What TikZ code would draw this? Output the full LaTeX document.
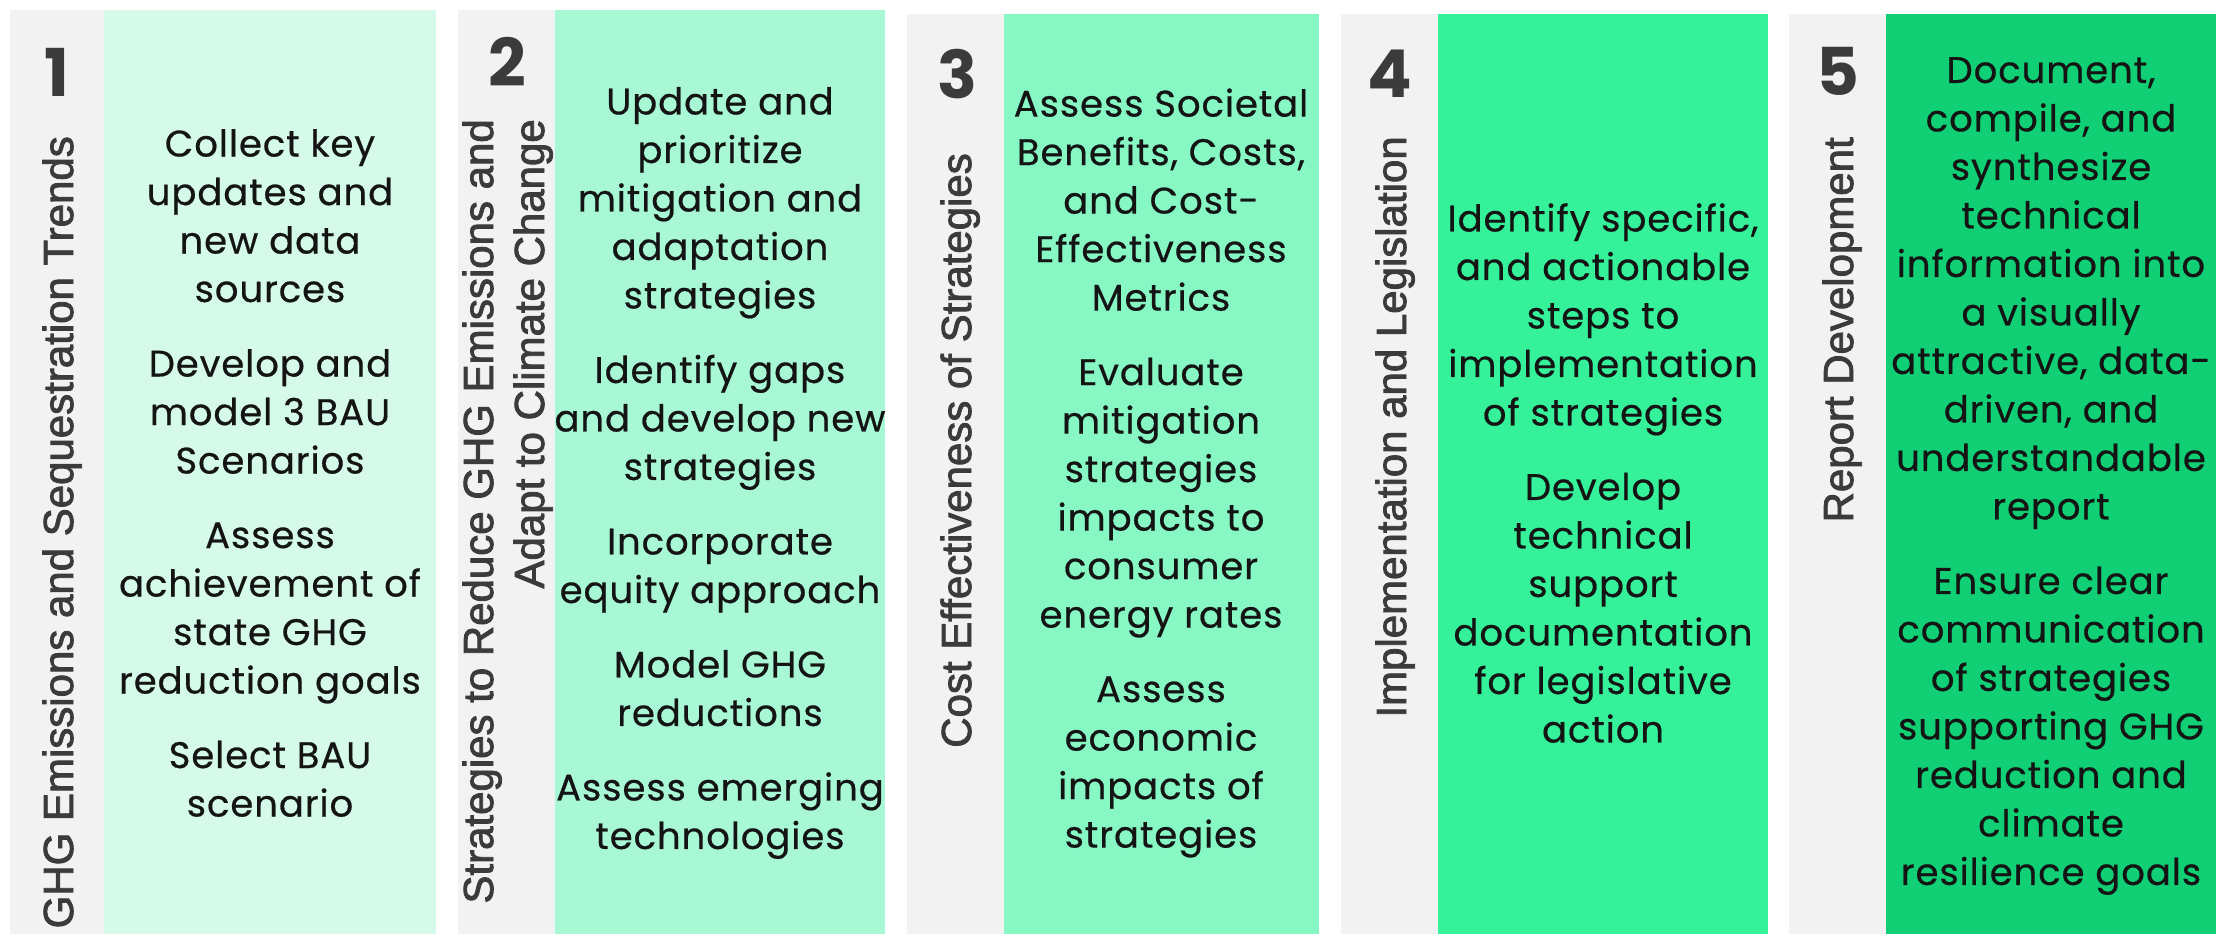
\documentclass[tikz,border=0pt]{standalone}
\usepackage{fontspec}
\setmainfont{Poppins}
\newfontfamily\bodyfont{Poppins}[LetterSpace=2.5, FakeBold=0.5]
\newfontfamily\titlefont{Liberation Sans}[FakeBold=2]
\usetikzlibrary{positioning}

\definecolor{stripgrey}{HTML}{F2F2F2}
\definecolor{numgrey}{HTML}{3B3B3B}
\definecolor{bodyblack}{HTML}{141414}
\definecolor{mintA}{HTML}{D5FAE9}
\definecolor{mintB}{HTML}{A9F8D5}
\definecolor{mintC}{HTML}{87F7C4}
\definecolor{mintD}{HTML}{35F29A}
\definecolor{mintE}{HTML}{10CF74}

\begin{document}
\begin{tikzpicture}[x=1pt, y=-1pt,
  numlabel/.style={font=\fontsize{66}{66}\selectfont\bfseries, text=numgrey, inner sep=0pt},
  titlelabel/.style={font=\titlefont\fontsize{42}{51}\selectfont, text=numgrey, rotate=90, anchor=base east, inner sep=0pt},
  bodytext/.style={font=\bodyfont\fontsize{37}{48.5}\selectfont, text=bodyblack, align=center, inner sep=0pt}]

  \newcommand\itemgap{26pt}
  \newcommand\Bot{934}

  \useasboundingbox (0,0) rectangle (2223,934);
  \fill[white] (0,0) rectangle (2223,934);

  %% step 1
  \fill[stripgrey] (10,10) rectangle (104,\Bot);
  \fill[mintA] (104,10) rectangle (436,\Bot);
  \node[numlabel] (num1) at (57,72) {1};
  \node[titlelabel] (title1) at (73,136) {GHG Emissions and Sequestration Trends};
  \node[bodytext] (body1) at (270,473) {Collect key\\updates and\\new data\\sources\\[\itemgap]
    Develop and\\model 3 BAU\\Scenarios\\[\itemgap]
    Assess\\achievement of\\state GHG\\reduction goals\\[\itemgap]
    Select BAU\\scenario};

  %% step 2
  \fill[stripgrey] (458,10) rectangle (555,\Bot);
  \fill[mintB] (555,10) rectangle (885,\Bot);
  \node[numlabel] (num2) at (507,62) {2};
  \node[titlelabel] (title2a) at (493,119) {Strategies to Reduce GHG Emissions and};
  \node[titlelabel] (title2b) at (544,119) {Adapt to Climate Change};
  \node[bodytext] (body2) at (720,473) {Update and\\prioritize\\mitigation and\\adaptation\\strategies\\[\itemgap]
    Identify gaps\\and develop new\\strategies\\[\itemgap]
    Incorporate\\equity approach\\[\itemgap]
    Model GHG\\reductions\\[\itemgap]
    Assess emerging\\technologies};

  %% step 3
  \fill[stripgrey] (907,14) rectangle (1004,\Bot);
  \fill[mintC] (1004,14) rectangle (1319,\Bot);
  \node[numlabel] (num3) at (957,74) {3};
  \node[titlelabel] (title3) at (971,153) {Cost Effectiveness of Strategies};
  \node[bodytext] (body3) at (1161,473) {Assess Societal\\Benefits, Costs,\\and Cost-\\Effectiveness\\Metrics\\[\itemgap]
    Evaluate\\mitigation\\strategies\\impacts to\\consumer\\energy rates\\[\itemgap]
    Assess\\economic\\impacts of\\strategies};

  %% step 4
  \fill[stripgrey] (1341,14) rectangle (1438,\Bot);
  \fill[mintD] (1438,14) rectangle (1768,\Bot);
  \node[numlabel] (num4) at (1390,74) {4};
  \node[titlelabel] (title4) at (1406,136) {Implementation and Legislation};
  \node[bodytext] (body4) at (1603,473) {Identify specific,\\and actionable\\steps to\\implementation\\of strategies\\[\itemgap]
    Develop\\technical\\support\\documentation\\for legislative\\action};

  %% step 5
  \fill[stripgrey] (1789,14) rectangle (1886,\Bot);
  \fill[mintE] (1886,14) rectangle (2216,\Bot);
  \node[numlabel] (num5) at (1838,71) {5};
  \node[titlelabel] (title5) at (1853,137) {Report Development};
  \node[bodytext] (body5) at (2051,476) {Document,\\compile, and\\synthesize\\technical\\information into\\a visually\\attractive, data-\\driven, and\\understandable\\report\\[\itemgap]
    Ensure clear\\communication\\of strategies\\supporting GHG\\reduction and\\climate\\resilience goals};

\end{tikzpicture}
\end{document}
